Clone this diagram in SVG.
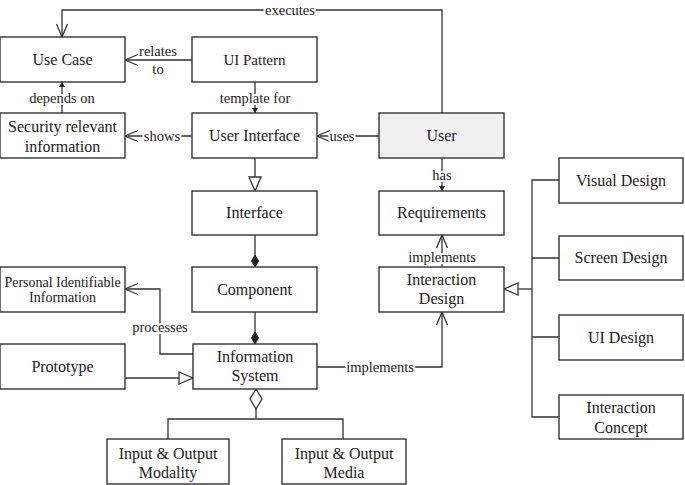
<svg xmlns="http://www.w3.org/2000/svg" width="685" height="485" viewBox="0 0 685 485">
<style>
text{font-family:"Liberation Serif","Times New Roman",Times,Tinos,"Noto Serif","DejaVu Serif",FreeSerif,serif}
.box{fill:#fff;stroke:#333;stroke-width:1.4}
.user{fill:#f0f0f0}
.t{font-size:16px;fill:#222;text-anchor:middle}
.s{font-size:14px}
.e{stroke:#333;stroke-width:1.3;fill:none}
.lbl{font-size:14.5px;fill:#222;text-anchor:middle;stroke:#fff;stroke-width:4px;paint-order:stroke;stroke-linejoin:round}
</style>
<defs>
<marker id="open" markerUnits="userSpaceOnUse" markerWidth="16" markerHeight="14" viewBox="-14 -7 16 14" refX="0" refY="0" orient="auto" overflow="visible">
<path d="M-13,-5.5 L0,0 L-13,5.5" fill="none" stroke="#333" stroke-width="1.3"/>
</marker>
<marker id="tri" markerUnits="userSpaceOnUse" markerWidth="16" markerHeight="14" viewBox="-15 -7 16 14" refX="0" refY="0" orient="auto" overflow="visible">
<path d="M-14,-6 L0,0 L-14,6 Z" fill="#fff" stroke="#333" stroke-width="1.3"/>
</marker>
<marker id="small" markerUnits="userSpaceOnUse" markerWidth="8" markerHeight="8" viewBox="-6 -4 8 8" refX="0" refY="0" orient="auto" overflow="visible">
<path d="M-5,-3 L0,0 L-5,3 Z" fill="#222"/>
</marker>
<marker id="fdia" markerUnits="userSpaceOnUse" markerWidth="14" markerHeight="10" viewBox="-13 -5 14 10" refX="0" refY="0" orient="auto" overflow="visible">
<path d="M-12,0 L-6,-3.5 L0,0 L-6,3.5 Z" fill="#222" stroke="#222" stroke-width="1"/>
</marker>
<marker id="hdia" markerUnits="userSpaceOnUse" markerWidth="22" markerHeight="14" viewBox="-21 -7 22 14" refX="0" refY="0" orient="auto" overflow="visible">
<path d="M-20,0 L-10,-6 L0,0 L-10,6 Z" fill="#fff" stroke="#333" stroke-width="1.3"/>
</marker>
</defs>

<g id="connectors">
<path class="e" d="M442,113 V10 H62 V37" marker-end="url(#open)"/>
<path class="e" d="M192,60 H125" marker-end="url(#open)"/>
<path class="e" d="M255,82 V113" marker-end="url(#small)"/>
<path class="e" d="M62,113 V82" marker-end="url(#small)"/>
<path class="e" d="M192,136 H125" marker-end="url(#open)"/>
<path class="e" d="M379,136 H317" marker-end="url(#open)"/>
<path class="e" d="M255,158 V191" marker-end="url(#tri)"/>
<path class="e" d="M255,235 V267" marker-end="url(#fdia)"/>
<path class="e" d="M255,312 V344" marker-end="url(#fdia)"/>
<path class="e" d="M442,158 V191" marker-end="url(#small)"/>
<path class="e" d="M442,267 V235" marker-end="url(#open)"/>
<path class="e" d="M317,367 H442 V312" marker-end="url(#open)"/>
<path class="e" d="M193,354 H160 V289 H125" marker-end="url(#open)"/>
<path class="e" d="M125,378 H193" marker-end="url(#tri)"/>
<path class="e" d="M168,439 V419 H343 V439"/>
<path class="e" d="M256,419 V389" marker-end="url(#hdia)"/>
<path class="e" d="M559,180 H532 V417 H559 M532,258 H559 M532,337 H559"/>
<path class="e" d="M532,289 H504" stroke-width="2" marker-end="url(#tri)"/>
<text class="lbl" x="290" y="15">executes</text>
<text class="lbl" x="158" y="56">relates</text>
<text class="lbl" x="158" y="74">to</text>
<text class="lbl" x="255" y="103">template for</text>
<text class="lbl" x="62" y="103">depends on</text>
<text class="lbl" x="162" y="141">shows</text>
<text class="lbl" x="342" y="141">uses</text>
<text class="lbl" x="442" y="180">has</text>
<text class="lbl" x="442" y="262">implements</text>
<text class="lbl" x="380" y="372">implements</text>
<text class="lbl" x="160" y="332">processes</text>
</g>

<g id="use-case"><rect class="box" x="0" y="37" width="125" height="45"/><text class="t" x="62.5" y="65">Use Case</text></g>
<g id="ui-pattern"><rect class="box" x="192" y="37" width="125" height="45"/><text class="t" x="254.5" y="65" style="font-size:15px">UI Pattern</text></g>
<g id="security-info"><rect class="box" x="0" y="113" width="125" height="45"/><text class="t" x="62.5" y="132">Security relevant</text><text class="t" x="62.5" y="152">information</text></g>
<g id="user-interface"><rect class="box" x="192" y="113" width="125" height="45"/><text class="t" x="254.5" y="141">User Interface</text></g>
<g id="user"><rect class="box user" x="379" y="113" width="125" height="45"/><text class="t" x="441.5" y="141">User</text></g>
<g id="interface"><rect class="box" x="192" y="191" width="125" height="44"/><text class="t" x="254.5" y="218">Interface</text></g>
<g id="requirements"><rect class="box" x="379" y="191" width="125" height="44"/><text class="t" x="441.5" y="218">Requirements</text></g>
<g id="visual-design"><rect class="box" x="559" y="158" width="124" height="45"/><text class="t" x="621" y="186">Visual Design</text></g>
<g id="screen-design"><rect class="box" x="559" y="236" width="124" height="44"/><text class="t" x="621" y="263">Screen Design</text></g>
<g id="pii"><rect class="box" x="0" y="267" width="125" height="45"/><text class="t s" x="62.5" y="287">Personal Identifiable</text><text class="t s" x="62.5" y="302">Information</text></g>
<g id="component"><rect class="box" x="192" y="267" width="125" height="45"/><text class="t" x="254.5" y="295">Component</text></g>
<g id="interaction-design"><rect class="box" x="379" y="267" width="125" height="45"/><text class="t" x="441.5" y="285">Interaction</text><text class="t" x="441.5" y="304">Design</text></g>
<g id="ui-design"><rect class="box" x="559" y="315" width="124" height="45"/><text class="t" x="621" y="343">UI Design</text></g>
<g id="prototype"><rect class="box" x="0" y="344" width="125" height="45"/><text class="t" x="62.5" y="372">Prototype</text></g>
<g id="information-system"><rect class="box" x="193" y="344" width="124" height="45"/><text class="t" x="255" y="362">Information</text><text class="t" x="255" y="381">System</text></g>
<g id="interaction-concept"><rect class="box" x="559" y="395" width="124" height="44"/><text class="t" x="621" y="413">Interaction</text><text class="t" x="621" y="433">Concept</text></g>
<g id="io-modality"><rect class="box" x="107" y="439" width="122" height="45"/><text class="t" x="168" y="459">Input &amp; Output</text><text class="t" x="168" y="478">Modality</text></g>
<g id="io-media"><rect class="box" x="282" y="439" width="124" height="45"/><text class="t" x="344" y="459">Input &amp; Output</text><text class="t" x="344" y="478">Media</text></g>
</svg>
